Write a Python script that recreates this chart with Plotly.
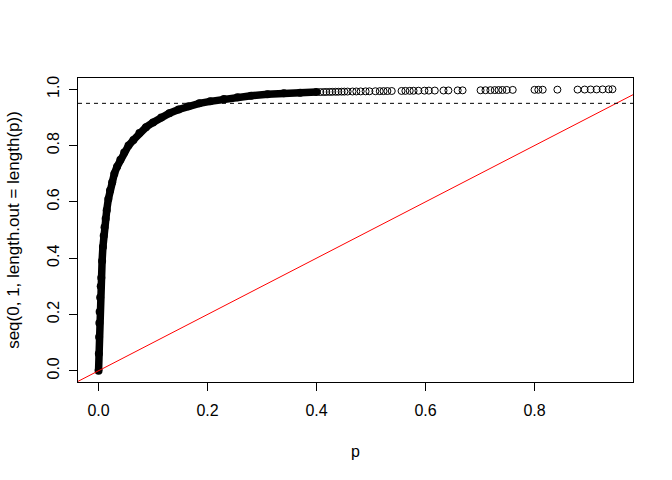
import plotly.graph_objects as go

# ---- data ----
# dense body of the sorted p-values (x) against seq(0, 1, length.out = n) (y)
p_dense = [0.0, 0.0005, 0.001, 0.0015, 0.002, 0.003, 0.004, 0.005, 0.0065, 0.008,
           0.0095, 0.011, 0.013, 0.015, 0.018, 0.021, 0.025, 0.029, 0.034, 0.040,
           0.047, 0.055, 0.064, 0.075, 0.087, 0.100, 0.115, 0.130, 0.147, 0.165,
           0.185, 0.205, 0.230, 0.255, 0.280, 0.310, 0.340, 0.370, 0.400]
q_dense = [0.0, 0.06, 0.12, 0.17, 0.21, 0.26, 0.30, 0.33, 0.39, 0.44,
           0.48, 0.51, 0.54, 0.57, 0.61, 0.64, 0.67, 0.70, 0.725, 0.75,
           0.775, 0.80, 0.82, 0.845, 0.865, 0.882, 0.90, 0.915, 0.928, 0.94,
           0.95, 0.957, 0.965, 0.972, 0.977, 0.982, 0.986, 0.988, 0.990]

# sparse upper tail (individual open circles)
p_tail = [0.407, 0.413, 0.418, 0.424, 0.429, 0.435, 0.440, 0.446, 0.451, 0.457,
          0.466, 0.473, 0.481, 0.490, 0.497,
          0.508, 0.516, 0.523, 0.530, 0.538,
          0.556, 0.563, 0.571, 0.578, 0.587,
          0.598, 0.606, 0.617,
          0.633, 0.642,
          0.659, 0.668,
          0.701, 0.710,
          0.719, 0.727, 0.734, 0.741, 0.749,
          0.760,
          0.800, 0.807, 0.815,
          0.842,
          0.879,
          0.892, 0.903, 0.914, 0.925, 0.936,
          0.943]
q_tail = [0.9900, 0.9902, 0.9904, 0.9906, 0.9908, 0.9910, 0.9912, 0.9914, 0.9916, 0.9918,
          0.9920, 0.9922, 0.9924, 0.9926, 0.9928,
          0.9930, 0.9932, 0.9934, 0.9936, 0.9938,
          0.9940, 0.9942, 0.9944, 0.9946, 0.9948,
          0.9950, 0.9952, 0.9954,
          0.9956, 0.9958,
          0.9960, 0.9962,
          0.9964, 0.9966,
          0.9968, 0.9970, 0.9972, 0.9974, 0.9976,
          0.9978,
          0.9980, 0.9982, 0.9984,
          0.9986,
          0.9988,
          0.9990, 0.9992, 0.9994, 0.9996, 0.9998,
          1.0000]

ref_intercept = 0.0   # abline(0, 1)
ref_slope = 1.0
h_level = 0.95        # abline(h = 0.95, lty = 2)

x_ticks = [0.0, 0.2, 0.4, 0.6, 0.8]
x_tick_labels = ["0.0", "0.2", "0.4", "0.6", "0.8"]
y_ticks = [0.0, 0.2, 0.4, 0.6, 0.8, 1.0]
y_tick_labels = ["0.0", "0.2", "0.4", "0.6", "0.8", "1.0"]

x_title = "p"
y_title = "seq(0, 1, length.out = length(p))"

# ---- R-style axis limits (4% padding) ----
all_p = p_dense + p_tail
all_q = q_dense + q_tail
xmin, xmax = min(all_p), max(all_p)
ymin, ymax = min(all_q), max(all_q)
xr = [xmin - 0.04 * (xmax - xmin), xmax + 0.04 * (xmax - xmin)]
yr = [ymin - 0.04 * (ymax - ymin), ymax + 0.04 * (ymax - ymin)]

font_family = "Liberation Sans, Arial, sans-serif"
fsize = 16

fig = go.Figure()

# dense body: solid band of overlapping circles
fig.add_trace(go.Scatter(
    x=p_dense, y=q_dense, mode="lines+markers",
    line=dict(color="black", width=7.5),
    marker=dict(symbol="circle", size=8, color="black"),
    hoverinfo="skip", showlegend=False))

# sparse tail: open circles
fig.add_trace(go.Scatter(
    x=p_tail, y=q_tail, mode="markers",
    marker=dict(symbol="circle-open", size=7, color="black",
                line=dict(width=1, color="black")),
    hoverinfo="skip", showlegend=False))

# red reference line y = a + b x across the full plotting region
fig.add_trace(go.Scatter(
    x=[xr[0], xr[1]],
    y=[ref_intercept + ref_slope * xr[0], ref_intercept + ref_slope * xr[1]],
    mode="lines", line=dict(color="#FF0000", width=1),
    hoverinfo="skip", showlegend=False, cliponaxis=True))

# dashed horizontal line
fig.add_shape(type="line", xref="paper", x0=0, x1=1, yref="y", y0=h_level, y1=h_level,
              line=dict(color="black", width=1, dash="4px,4px"))

fig.update_layout(
    width=672, height=480,
    margin=dict(l=78, r=39, t=78, b=98, autoexpand=False),
    paper_bgcolor="white", plot_bgcolor="white",
    font=dict(family=font_family, size=fsize, color="black"),
    showlegend=False,
)
fig.update_xaxes(
    range=xr, tickmode="array", tickvals=x_ticks, ticktext=x_tick_labels,
    showgrid=False, zeroline=False, automargin=False,
    showline=True, linecolor="black", linewidth=1, mirror=True,
    ticks="outside", ticklen=8, tickwidth=1, tickcolor="black",
    ticklabelstandoff=6,
    title=dict(text=x_title, standoff=27, font=dict(size=fsize)),
)
fig.update_yaxes(
    range=yr, tickmode="array", tickvals=y_ticks, ticktext=y_tick_labels,
    showgrid=False, zeroline=False, automargin=False,
    showline=True, linecolor="black", linewidth=1, mirror=True,
    ticks="outside", ticklen=8, tickwidth=1, tickcolor="black",
    tickangle=-90, ticklabelstandoff=4,
    title=dict(text=y_title, standoff=20, font=dict(size=17)),
)

fig.write_html("out.html",
               config={"displayModeBar": False, "staticPlot": True},
               post_script="document.body.style.margin='0';document.body.style.padding='0';")
